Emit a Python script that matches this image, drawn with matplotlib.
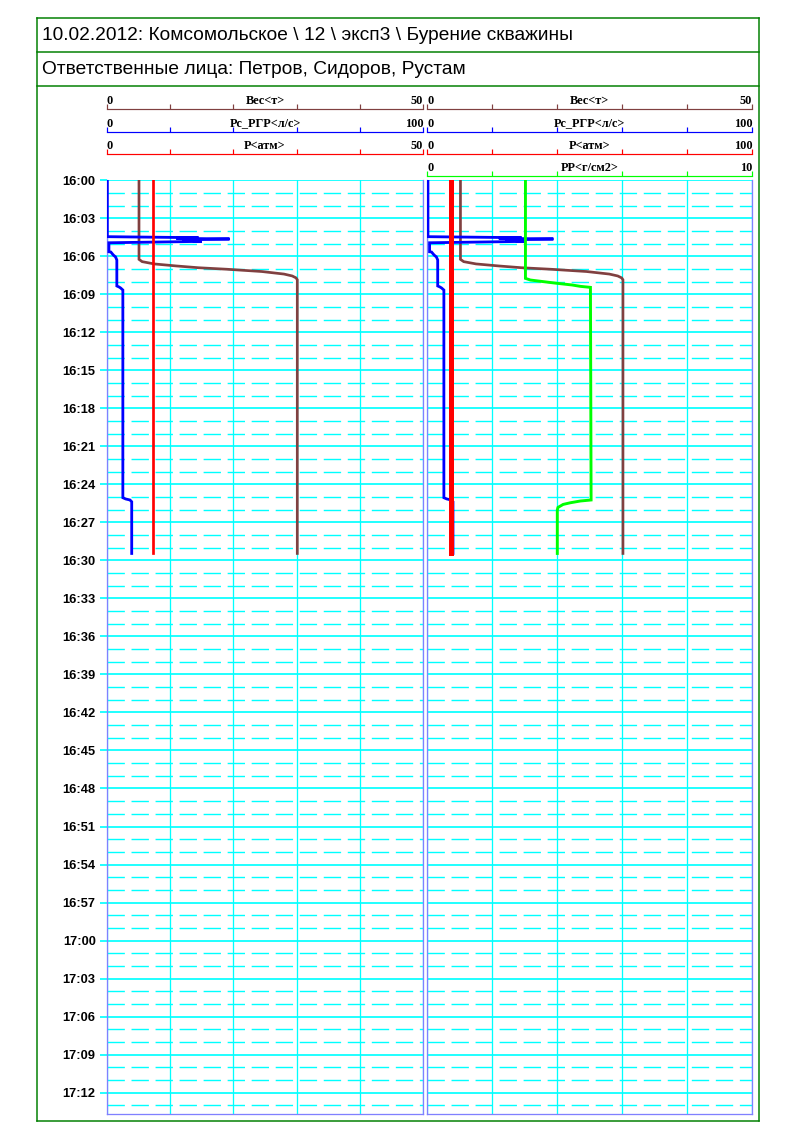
import numpy as np
import matplotlib
matplotlib.use('Agg')
import matplotlib.pyplot as plt
from matplotlib.lines import Line2D

plt.rcParams['lines.scale_dashes'] = False

# ---- data (minutes after 16:00) ----
title1 = '10.02.2012: Комсомольское \\ 12 \\ эксп3 \\ Бурение скважины'
title2 = 'Ответственные лица: Петров, Сидоров, Рустам'

time_labels = ['16:00', '16:03', '16:06', '16:09', '16:12', '16:15', '16:18', '16:21',
               '16:24', '16:27', '16:30', '16:33', '16:36', '16:39', '16:42', '16:45',
               '16:48', '16:51', '16:54', '16:57', '17:00', '17:03', '17:06', '17:09', '17:12']
t_end = 73.65

ves_t = [0, 6.24, 6.42, 6.6, 6.76, 6.9, 7.02, 7.2, 7.4, 7.55, 7.7, 7.85, 29.45]
ves_v = [5.1, 5.1, 5.6, 7.5, 11.0, 14.5, 19.0, 24.5, 28.0, 29.3, 29.9, 30.1, 30.1]

rgr_t = [0, 4.45, 4.53, 4.58, 4.63, 4.70, 4.82, 4.93, 5.64, 5.66, 5.9, 6.05, 6.29,
         8.34, 8.42, 8.5, 8.66, 25.05, 25.15, 25.23, 25.37, 29.45]
rgr_v = [0.2, 0.2, 29.0, 22.0, 38.8, 24.0, 30.0, 0.7, 0.7, 1.3, 2.1, 2.8, 3.2,
         3.2, 3.9, 4.4, 5.1, 5.1, 6.0, 7.35, 7.9, 7.9]

p_t = [0, 29.45]
p_v = [7.3, 7.3]

pp_t = [0, 7.74, 7.87, 7.95, 8.13, 8.26, 8.37, 8.45, 25.23, 25.31, 25.45, 25.58, 25.82, 26.02, 29.45]
pp_v = [3.02, 3.02, 3.17, 3.42, 3.99, 4.45, 4.71, 5.02, 5.04, 4.71, 4.4, 4.18, 4.02, 4.0, 4.0]

BROWN = '#804040'
BLUE = '#0000ff'
RED = '#ff0000'
GREEN = '#00ff00'
CYAN = '#00ffff'
LAV = '#8080ff'
FRAME = '#007f00'

W, H = 797, 1123
fig = plt.figure(figsize=(W / 100, H / 100), dpi=100)


def rect(x0, y0, x1, y1):
    return [x0 / W, 1 - y1 / H, (x1 - x0) / W, (y1 - y0) / H]


def px(v):
    return v * 72 / 100


# outer frame + header rows
for (xa, ya, xb, yb) in [(37, 18, 759, 18), (37, 1121, 759, 1121), (37, 18, 37, 1121),
                         (759, 18, 759, 1121), (37, 52, 759, 52), (37, 86, 759, 86)]:
    fig.add_artist(Line2D([xa / W, xb / W], [1 - ya / H, 1 - yb / H], color=FRAME, lw=px(1.5)))
fig.text(42 / W, 1 - 35 / H, title1, fontsize=13.8, family='Liberation Sans', va='center')
fig.text(42 / W, 1 - 69 / H, title2, fontsize=13.8, family='Liberation Sans', va='center')


def scale_bar(x0, x1, yline, color, vmax, name):
    a = fig.add_axes(rect(x0, yline - 20, x1, yline))
    a.set_xlim(0, vmax)
    a.set_ylim(0, 1)
    a.patch.set_visible(False)
    for s in ['top', 'left', 'right']:
        a.spines[s].set_visible(False)
    a.spines['bottom'].set_color(color)
    a.spines['bottom'].set_linewidth(px(1.2))
    a.set_xticks(np.linspace(0, vmax, 6))
    a.tick_params(axis='x', direction='in', length=px(5), width=px(1.2), color=color,
                  labelbottom=False)
    a.set_yticks([])
    kw = dict(fontsize=8.8, family='Liberation Serif', weight='bold', va='baseline',
              transform=a.transAxes)
    a.text(0.0, 0.27, '0', ha='left', **kw)
    a.text(1.0, 0.27, f'{vmax:g}', ha='right', **kw)
    a.text(0.5, 0.27, name, ha='center', **kw)


def panel(x0, x1, labels):
    ax = fig.add_axes(rect(x0, 180.3, x1, 1113.5))
    ax.set_ylim(t_end, 0)
    ax.set_xlim(0, 1)
    ax.set_yticks(np.arange(0, 73, 3))
    ax.set_yticks([m for m in range(1, 74) if m % 3], minor=True)
    ax.set_xticks(np.linspace(0, 1, 6))
    ax.grid(which='major', axis='y', color=CYAN, lw=px(1.7))
    ax.grid(which='minor', axis='y', color=CYAN, lw=px(1.4), linestyle=(0, (12.5, 4.8)))
    ax.grid(which='major', axis='x', color=CYAN, lw=px(1.3))
    ax.spines['top'].set_visible(False)
    for s in ['left', 'right', 'bottom']:
        ax.spines[s].set_color(LAV)
        ax.spines[s].set_linewidth(px(1.3))
    ax.tick_params(axis='x', length=0, labelbottom=False)
    ax.tick_params(axis='y', which='minor', length=0)
    if labels:
        ax.set_yticklabels(time_labels)
        ax.tick_params(axis='y', which='major', length=px(7.5), width=px(1.7), color=CYAN,
                       pad=2.5, labelsize=9.3)
        for lb in ax.get_yticklabels():
            lb.set_family('Liberation Sans')
            lb.set_weight('bold')
    else:
        ax.tick_params(axis='y', which='major', length=0, labelleft=False)
    return ax


def series(ax, t, v, vmax, color, lw):
    tw = ax.twiny()
    tw.set_xlim(0, vmax)
    tw.plot(v, t, color=color, lw=px(lw), solid_joinstyle='miter')
    tw.axis('off')


# left panel
scale_bar(106.7, 423.3, 109, BROWN, 50, 'Вес<т>')
scale_bar(106.7, 423.3, 132, BLUE, 100, 'Рс_РГР<л/с>')
scale_bar(106.7, 423.3, 154, RED, 50, 'Р<атм>')
ax1 = panel(106.7, 423.3, True)
series(ax1, ves_t, ves_v, 50, BROWN, 2.7)
series(ax1, rgr_t, rgr_v, 100, BLUE, 2.8)
series(ax1, p_t, p_v, 50, RED, 2.7)

# right panel
scale_bar(427.3, 752.3, 109, BROWN, 50, 'Вес<т>')
scale_bar(427.3, 752.3, 132, BLUE, 100, 'Рс_РГР<л/с>')
scale_bar(427.3, 752.3, 154, RED, 100, 'Р<атм>')
scale_bar(427.3, 752.3, 176, GREEN, 10, 'РР<г/см2>')
ax2 = panel(427.3, 752.3, False)
series(ax2, ves_t, ves_v, 50, BROWN, 2.7)
series(ax2, rgr_t, rgr_v, 100, BLUE, 2.8)
series(ax2, p_t, p_v, 100, RED, 5)
series(ax2, pp_t, pp_v, 10, GREEN, 2.9)

fig.savefig('out.png', dpi=100)
